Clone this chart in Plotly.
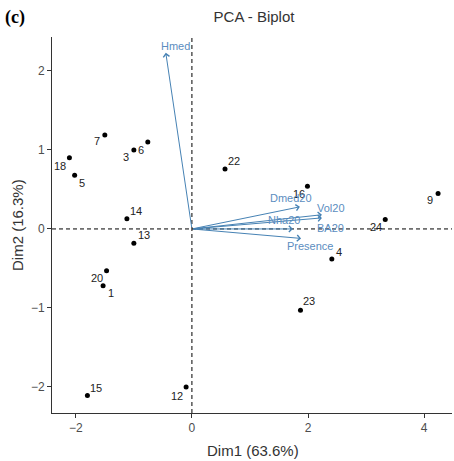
import plotly.graph_objects as go

# Individuals (PCA scores)
ind_labels = ["7", "3", "6", "18", "5", "14", "13", "20", "1", "15", "12",
              "22", "16", "9", "24", "4", "23"]
ind_dim1 = [-1.50, -1.00, -0.76, -2.11, -2.02, -1.12, -1.00, -1.47, -1.53, -1.80, -0.10,
            0.57, 1.99, 4.24, 3.33, 2.41, 1.87]
ind_dim2 = [1.19, 1.00, 1.10, 0.90, 0.68, 0.13, -0.18, -0.53, -0.72, -2.11, -2.00,
            0.76, 0.54, 0.45, 0.12, -0.38, -1.03]
# label offsets in px (x right, y down on screen)
ind_dx = [-8, -8, -7, -9, 7, 9, 10, -10, 8, 9, -9, 9, -8, -8, -9, 7, 9]
ind_dy = [6, 7, 8, 8, 8, -8, -8, 7, 7, -8, 9, -8, 8, 7, 8, -7, -9]

# Variables (loadings, scaled)
var_labels = ["Hmed", "Dmed20", "Vol20", "BA20", "Nha20", "Presence"]
var_dim1 = [-0.45, 1.86, 2.24, 2.24, 1.74, 1.88]
var_dim2 = [2.23, 0.28, 0.18, 0.14, 0.00, -0.12]
var_lab_x = [-0.29, 1.71, 2.40, 2.38, 1.58, 2.03]
var_lab_y = [2.32, 0.39, 0.27, 0.01, 0.11, -0.22]

arrow_col = "#4682B4"
FONT = "Liberation Sans, Arial"
fig = go.Figure()

fig.add_trace(go.Scatter(x=ind_dim1, y=ind_dim2, mode="markers",
                         marker=dict(color="black", size=5), hoverinfo="skip",
                         showlegend=False, cliponaxis=False))

annotations = []
for lab, x, y, dx, dy in zip(ind_labels, ind_dim1, ind_dim2, ind_dx, ind_dy):
    annotations.append(dict(x=x, y=y, xref="x", yref="y", text=lab, showarrow=False,
                            xshift=dx, yshift=-dy,
                            font=dict(family=FONT, size=11, color="#222222")))

for lab, x, y, lx, ly in zip(var_labels, var_dim1, var_dim2, var_lab_x, var_lab_y):
    annotations.append(dict(x=x, y=y, ax=0, ay=0, xref="x", yref="y", axref="x", ayref="y",
                            text="", showarrow=True, arrowhead=4, arrowsize=1.2,
                            arrowwidth=1, arrowcolor=arrow_col))
    annotations.append(dict(x=lx, y=ly, xref="x", yref="y", text=lab, showarrow=False,
                            font=dict(family=FONT, size=11, color="#5b8dc0")))

annotations.append(dict(xref="paper", yref="paper", x=-0.0925, y=1.053,
                        xanchor="center", yanchor="middle", text="<b>(c)</b>", showarrow=False,
                        font=dict(family="Liberation Serif, Times New Roman", size=18, color="black")))
annotations.append(dict(xref="paper", yref="paper", x=0.5025, y=-0.100,
                        xanchor="center", yanchor="middle", text="Dim1 (63.6%)", showarrow=False,
                        font=dict(family=FONT, size=15, color="#333333")))
annotations.append(dict(xref="paper", yref="paper", x=-0.0875, y=0.5, textangle=-90,
                        xanchor="center", yanchor="middle", text="Dim2 (16.3%)", showarrow=False,
                        font=dict(family=FONT, size=15, color="#333333")))

fig.update_layout(
    width=454, height=461,
    margin=dict(l=52, r=2, t=37, b=48),
    plot_bgcolor="white", paper_bgcolor="white",
    title=dict(text="PCA - Biplot", x=0.5595, xanchor="center", y=0.963, yanchor="middle",
               font=dict(family=FONT, size=15, color="#333333")),
    annotations=annotations,
    shapes=[
        dict(type="line", xref="x", yref="paper", x0=0, x1=0, y0=0, y1=1,
             line=dict(color="black", width=1, dash="4px,3px")),
        dict(type="line", xref="paper", yref="y", x0=0, x1=1, y0=0, y1=0,
             line=dict(color="black", width=1, dash="4px,3px")),
    ],
)
fig.update_xaxes(range=[-2.41, 4.48], tickvals=[-2, 0, 2, 4], showgrid=False, zeroline=False,
                 automargin=False,
                 showline=True, linecolor="#333333", linewidth=1, ticks="outside", ticklen=4,
                 tickcolor="#333333", tickfont=dict(family=FONT, size=12, color="#4d4d4d"))
fig.update_yaxes(range=[-2.33, 2.43], tickvals=[-2, -1, 0, 1, 2], showgrid=False, zeroline=False,
                 automargin=False,
                 showline=True, linecolor="#333333", linewidth=1, ticks="outside", ticklen=4,
                 tickcolor="#333333", tickfont=dict(family=FONT, size=12, color="#4d4d4d"))

fig.write_html("out.html", config={"displayModeBar": False},
               post_script="document.body.style.margin='0';document.body.style.overflow='hidden';")
